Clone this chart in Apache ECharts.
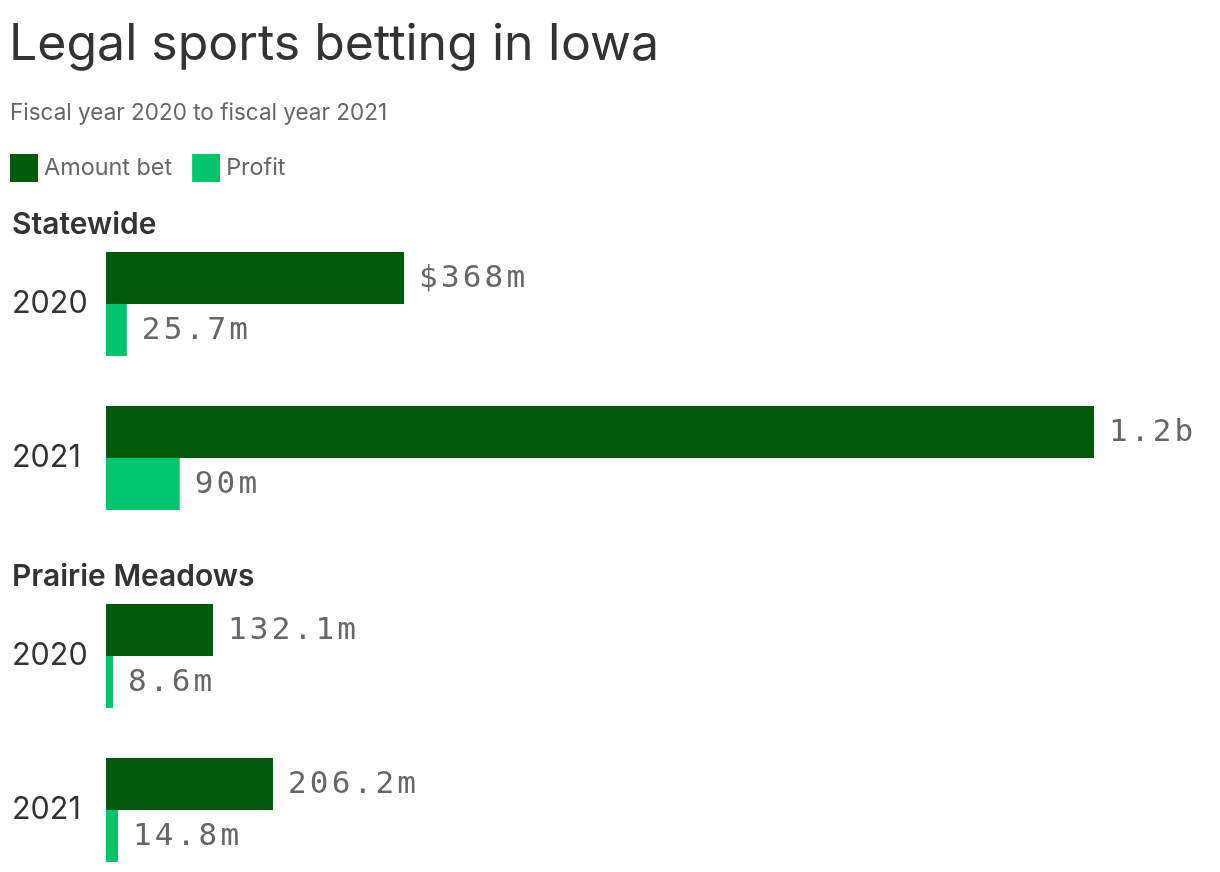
<!DOCTYPE html>
<html style="height:100%;">

<head>
  <meta charset="utf-8">
  <script src="https://cdn.jsdelivr.net/npm/echarts@6/dist/echarts.min.js"></script>
  <style>
    body { margin: 0; background: #fff; }
    #chart { width: 1220px; height: 872px; }
  </style>
</head>

<body>
  <div id="chart"></div>
  <script>
    const years = ['2020', '2021'];
    const groupNames = ['Statewide', 'Prairie Meadows'];
    const legendNames = ['Amount bet', 'Profit'];
    // values in millions, 1.2b
    const statewideBet = [368, 1220];
    const statewideProfit = [25.7, 91];
    const prairieBet = [132.1, 206.2];
    const prairieProfit = [8.6, 14.8];
    const statewideBetLabels = ['$368m', '1.2b'];
    const statewideProfitLabels = ['25.7m', '90m'];
    const prairieBetLabels = ['132.1m', '206.2m'];
    const prairieProfitLabels = ['8.6m', '14.8m'];

    const DARK = '#005a07';
    const LIGHT = '#00c56c';
    const SANS = '"Inter", "Noto Sans", sans-serif';
    const MONO = '"DejaVu Sans Mono", monospace';

    // the value labels are tracked out, echarts has no option for that
    const fillText = CanvasRenderingContext2D.prototype.fillText;
    CanvasRenderingContext2D.prototype.fillText = function (text, x, y, maxWidth) {
      this.letterSpacing = this.font.includes('Mono') ? '3.2px' : '0px';
      if (maxWidth === undefined) return fillText.call(this, text, x, y);
      return fillText.call(this, text, x, y, maxWidth);
    };

    function barSeries(name, values, labels, color, axisIndex) {
      return {
        name: name,
        type: 'bar',
        xAxisIndex: axisIndex,
        yAxisIndex: axisIndex,
        data: values,
        itemStyle: { color: color },
        barWidth: 52,
        barGap: 0,
        silent: true,
        label: {
          show: true,
          position: 'right',
          distance: 15,
          offset: [0, 1],
          fontFamily: MONO,
          fontSize: 31,
          color: '#666666',
          formatter: p => labels[p.dataIndex]
        }
      };
    }

    function xAxis(gridIndex) {
      return { gridIndex: gridIndex, type: 'value', min: 0, max: 1220, show: false };
    }

    function yAxis(gridIndex) {
      return {
        gridIndex: gridIndex,
        type: 'category',
        data: years,
        inverse: true,
        axisLine: { show: false },
        axisTick: { show: false },
        axisLabel: {
          fontFamily: SANS,
          fontSize: 30.5,
          color: '#333333',
          align: 'left',
          margin: 94,
          padding: [0, 0, 10, 0]
        }
      };
    }

    let chart = echarts.init(document.getElementById('chart'), null, { renderer: 'canvas' });
    chart.setOption({
      animation: false,
      backgroundColor: '#ffffff',
      title: [
        { text: 'Legal sports betting in Iowa', left: 4, top: 15, textStyle: { fontFamily: SANS, fontSize: 50, fontWeight: 400, color: '#333333' } },
        { text: 'Fiscal year 2020 to fiscal year 2021', left: 5, top: 97, textStyle: { fontFamily: SANS, fontSize: 22.5, fontWeight: 400, color: '#666666' } },
        { text: groupNames[0], left: 7, top: 205, textStyle: { fontFamily: SANS, fontSize: 30, fontWeight: 600, color: '#333333' } },
        { text: groupNames[1], left: 7, top: 557, textStyle: { fontFamily: SANS, fontSize: 30, fontWeight: 600, color: '#333333' } }
      ],
      legend: {
        left: 5,
        top: 149,
        itemWidth: 28,
        itemHeight: 28,
        itemGap: 20,
        icon: 'rect',
        data: legendNames,
        selectedMode: false,
        textStyle: { fontFamily: SANS, fontSize: 23.4, color: '#666666', padding: [2, 0, 0, 1] }
      },
      grid: [
        { left: 106, top: 227, width: 988, height: 308, outerBoundsMode: 'none' },
        { left: 106, top: 579, width: 988, height: 308, outerBoundsMode: 'none' }
      ],
      xAxis: [xAxis(0), xAxis(1)],
      yAxis: [yAxis(0), yAxis(1)],
      series: [
        barSeries(legendNames[0], statewideBet, statewideBetLabels, DARK, 0),
        barSeries(legendNames[1], statewideProfit, statewideProfitLabels, LIGHT, 0),
        barSeries(legendNames[0], prairieBet, prairieBetLabels, DARK, 1),
        barSeries(legendNames[1], prairieProfit, prairieProfitLabels, LIGHT, 1)
      ]
    });
  </script>
</body>

</html>
